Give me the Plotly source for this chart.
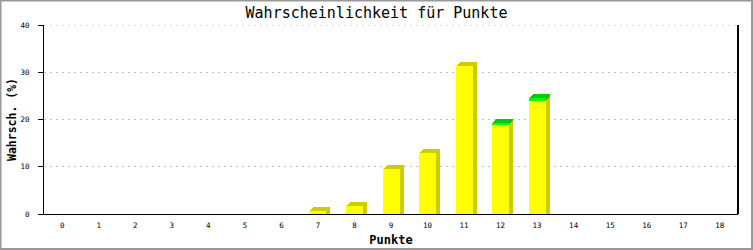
import plotly.graph_objects as go

# ---- data ----
punkte = list(range(19))
tick_labels = [str(p) for p in punkte]
gelb = [None] * 7 + [0.7, 1.7, 9.5, 12.9, 31.3, 19.0, 24.0] + [None] * 5
gruen = [None] * 12 + [0.2, 0.6] + [None] * 5

# ---- geometry / style ----
W_PX, H_PX = 753, 250
M_L, M_R, M_T, M_B = 44, 15, 25, 36
PLOT_W = W_PX - M_L - M_R
PLOT_H = H_PX - M_T - M_B
X_MIN, X_MAX = -0.5, 18.5
Y_MIN, Y_MAX = 0, 40
PX_X = PLOT_W / (X_MAX - X_MIN)
PX_Y = PLOT_H / (Y_MAX - Y_MIN)
BAR_W = 17 / PX_X
DX = 1 / PX_X
DY = 1 / PX_Y
DEPTH = 4

YELLOW = "#ffff00"
YELLOW_DARK = "#cccc00"
GREEN = "#00ff00"
GREEN_DARK = "#00cc00"
GRID = "#c0c0c0"
GRID_DASH = "2px,4px"
MONO = "DejaVu Sans Mono"

fig = go.Figure()

# 3D depth layers (staircase, 1px per step)
for k in range(DEPTH, 0, -1):
    yb, gb, gbase = [], [], []
    for g, gr in zip(gelb, gruen):
        if g is None:
            yb.append(None); gb.append(None); gbase.append(None)
            continue
        yb.append(g + k * DY)
        if gr is None:
            gb.append(None); gbase.append(None)
        else:
            gb.append(gr); gbase.append(g + k * DY)
    fig.add_trace(go.Bar(x=punkte, y=yb, base=0, width=BAR_W,
                         offset=-BAR_W / 2 + k * DX,
                         marker=dict(color=YELLOW_DARK, line=dict(width=0)),
                         showlegend=False, hoverinfo="skip"))
    fig.add_trace(go.Bar(x=punkte, y=gb, base=gbase, width=BAR_W,
                         offset=-BAR_W / 2 + k * DX,
                         marker=dict(color=GREEN_DARK, line=dict(width=0)),
                         showlegend=False, hoverinfo="skip"))

# front faces
fig.add_trace(go.Bar(x=punkte, y=gelb, base=0, width=BAR_W, offset=-BAR_W / 2,
                     marker=dict(color=YELLOW, line=dict(width=0)),
                     showlegend=False))
fig.add_trace(go.Bar(x=punkte, y=gruen, base=gelb, width=BAR_W, offset=-BAR_W / 2,
                     marker=dict(color=GREEN, line=dict(width=0)),
                     showlegend=False))

fig.update_layout(
    width=W_PX, height=H_PX,
    margin=dict(l=M_L, r=M_R, t=M_T, b=M_B, pad=0, autoexpand=False),
    paper_bgcolor="white", plot_bgcolor="white",
    barmode="overlay", bargap=0,
    title=dict(text="Wahrscheinlichkeit für Punkte", x=0.5,
               xanchor="center", y=1 - 12.5 / H_PX, yanchor="middle",
               font=dict(family=MONO, size=15, color="black")),
    xaxis=dict(range=[X_MIN, X_MAX], tickvals=punkte, ticktext=tick_labels,
               automargin=False,
               showgrid=False, zeroline=False, showline=True, linecolor="black",
               linewidth=1, ticks="", ticklabelstandoff=4,
               tickfont=dict(family=MONO, size=7.5, color="black"),
               title=dict(text="<b>Punkte</b>", standoff=6,
                          font=dict(family=MONO, size=12, color="black"))),
    yaxis=dict(range=[Y_MIN, Y_MAX], dtick=10, showgrid=True, gridcolor=GRID,
               automargin=False,
               griddash=GRID_DASH, gridwidth=1, zeroline=False, showline=True,
               linecolor="black", linewidth=1, mirror=False, ticks="outside",
               ticklen=5, tickcolor="black", ticklabelstandoff=7,
               tickfont=dict(family=MONO, size=7.5, color="black"),
               title=dict(text="<b>Wahrsch. (%)</b>", standoff=1,
                          font=dict(family=MONO, size=11.5, color="black"))),
    shapes=[
        dict(type="line", xref="paper", yref="y", x0=0, x1=1, y0=Y_MAX, y1=Y_MAX,
             line=dict(color=GRID, width=1, dash=GRID_DASH), layer="below"),
        dict(type="line", xref="paper", yref="paper", x0=1, x1=1, y0=0, y1=1,
             line=dict(color="black", width=2), layer="above"),
        dict(type="rect", xref="paper", yref="paper",
             x0=-M_L / PLOT_W + 0.5 / PLOT_W, x1=1 + (M_R - 1) / PLOT_W,
             y0=-(M_B - 1) / PLOT_H, y1=1 + (M_T - 0.5) / PLOT_H,
             line=dict(color="#999999", width=2), layer="above"),
    ],
)

fig.write_html("out.html")
